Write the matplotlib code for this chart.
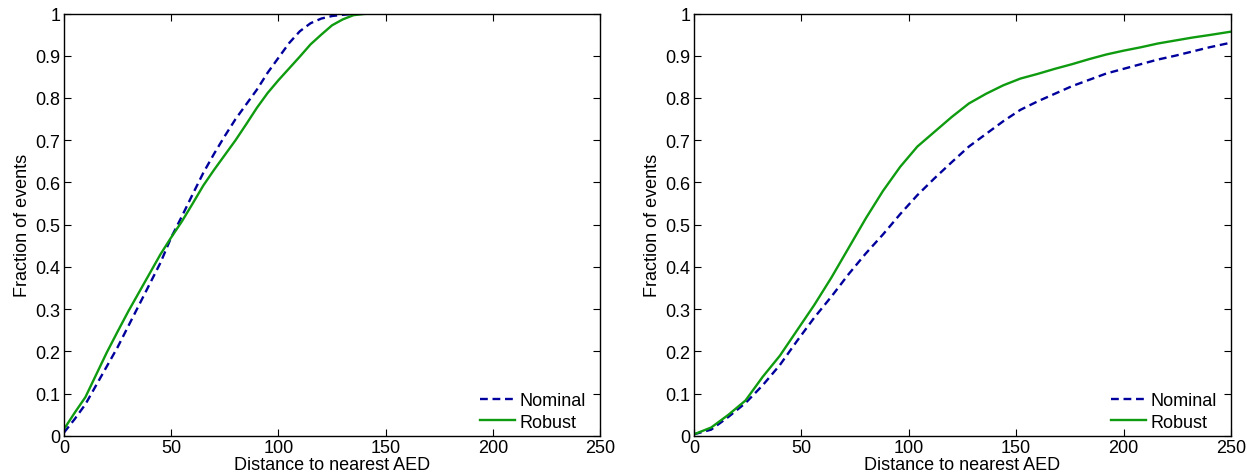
import numpy as np
import matplotlib
matplotlib.use('Agg')
import matplotlib.pyplot as plt

plt.rcParams['font.family'] = ['Liberation Sans', 'DejaVu Sans']

# ─── Data ─────────────────────────────────────────────────────────────────────

# left panel
x_left = [0, 5, 10, 15, 20, 25, 30, 35, 40, 45, 50, 55, 60, 65, 70, 75, 80, 85,
          90, 95, 100, 105, 110, 115, 120, 125, 130, 135, 140, 145, 150, 250]
nominal_left = [0.008, 0.04, 0.075, 0.12, 0.165, 0.21, 0.26, 0.31, 0.36, 0.41,
                0.47, 0.52, 0.572, 0.623, 0.668, 0.71, 0.75, 0.785, 0.82, 0.86,
                0.895, 0.93, 0.958, 0.977, 0.988, 0.994, 0.997, 0.999, 1.0, 1.0,
                1.0, 1.0]
robust_left = [0.016, 0.055, 0.092, 0.145, 0.198, 0.247, 0.295, 0.34, 0.385, 0.43,
               0.47, 0.508, 0.55, 0.593, 0.63, 0.665, 0.7, 0.738, 0.777, 0.812,
               0.842, 0.87, 0.898, 0.927, 0.95, 0.972, 0.986, 0.996, 0.999, 1.0,
               1.0, 1.0]

# right panel
x_right = [0, 8, 16, 24, 32, 40, 48, 56, 64, 72, 80, 88, 96, 104, 112, 120, 128,
           136, 144, 152, 160, 168, 176, 184, 192, 200, 208, 216, 224, 232, 240,
           250]
nominal_right = [0.004, 0.015, 0.045, 0.078, 0.12, 0.168, 0.225, 0.28, 0.33,
                 0.383, 0.432, 0.477, 0.525, 0.57, 0.61, 0.648, 0.685, 0.715,
                 0.745, 0.772, 0.792, 0.81, 0.828, 0.843, 0.858, 0.869, 0.88,
                 0.891, 0.9, 0.91, 0.92, 0.931]
robust_right = [0.004, 0.02, 0.05, 0.084, 0.14, 0.19, 0.25, 0.31, 0.375, 0.445,
                0.515, 0.58, 0.637, 0.685, 0.72, 0.755, 0.787, 0.81, 0.83, 0.846,
                0.857, 0.869, 0.88, 0.892, 0.903, 0.912, 0.92, 0.929, 0.936,
                0.943, 0.949, 0.957]

x_ticks = [0, 50, 100, 150, 200, 250]
y_ticks = [0, 0.1, 0.2, 0.3, 0.4, 0.5, 0.6, 0.7, 0.8, 0.9, 1]
y_ticklabels = ['0', '0.1', '0.2', '0.3', '0.4', '0.5', '0.6', '0.7', '0.8', '0.9', '1']

NOMINAL_C = '#00009c'
ROBUST_C = '#0f9b0f'
FS = 13

# ─── Figure ───────────────────────────────────────────────────────────────────

fig = plt.figure(figsize=(12.47, 4.77), dpi=100)
ax1 = fig.add_axes([0.0513, 0.0839, 0.4299, 0.8857])
ax2 = fig.add_axes([0.5565, 0.0839, 0.4306, 0.8857])

for ax, xs, nom, rob in [(ax1, x_left, nominal_left, robust_left),
                         (ax2, x_right, nominal_right, robust_right)]:
    ax.plot(xs, nom, color=NOMINAL_C, linestyle=(0, (3.3, 2.0)), linewidth=1.7,
            label='Nominal')
    ax.plot(xs, rob, color=ROBUST_C, linestyle='-', linewidth=1.7,
            label='Robust')
    ax.set_xlim(0, 250)
    ax.set_ylim(0, 1)
    ax.set_xticks(x_ticks)
    ax.set_xticklabels([str(t) for t in x_ticks])
    ax.set_yticks(y_ticks)
    ax.set_yticklabels(y_ticklabels)
    ax.tick_params(direction='in', length=5, width=0.8, labelsize=FS,
                   top=True, right=True, pad=2.5)
    for s in ax.spines.values():
        s.set_linewidth(1.0)
    ax.set_xlabel('Distance to nearest AED', fontsize=FS, labelpad=0)
    ax.set_ylabel('Fraction of events', fontsize=FS, labelpad=3)
    ax.legend(loc='lower right', bbox_to_anchor=(0.984, 0.0), frameon=False,
              fontsize=FS, handlelength=1.95, handletextpad=0.25,
              labelspacing=0.23, borderaxespad=0.15, borderpad=0.15)

plt.savefig('out.png', dpi=100)
